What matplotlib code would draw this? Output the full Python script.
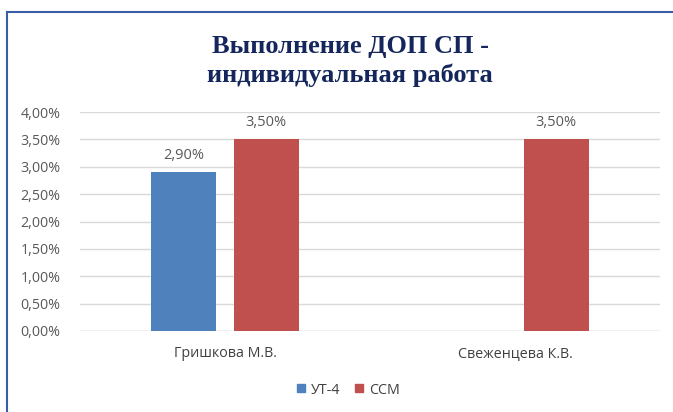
import numpy as np
import matplotlib.pyplot as plt
from matplotlib.lines import Line2D

categories = ["Гришкова М.В.", "Свеженцева К.В."]
ut4 = [2.90, np.nan]
ssm = [3.50, 3.50]
series_names = ["УТ-4", "ССМ"]
colors = ["#4F81BD", "#C0504D"]
yticks = [0, 0.5, 1.0, 1.5, 2.0, 2.5, 3.0, 3.5, 4.0]

plt.rcParams['font.family'] = ['Open Sans', 'DejaVu Sans']

fig = plt.figure(figsize=(6.73, 4.12), dpi=100)
ax = fig.add_axes([80 / 673, 1 - 331 / 412, 580 / 673, 219 / 412])

x = np.arange(len(categories))
w = 0.224
off = 0.142
b1 = ax.bar(x - off, ut4, w, color=colors[0], label=series_names[0], zorder=3)
b2 = ax.bar(x + off, ssm, w, color=colors[1], label=series_names[1], zorder=3)

def fmt(v):
    return f"{v:.2f}%".replace(".", ",")

for bars, vals in [(b1, ut4), (b2, ssm)]:
    for rect, v in zip(bars, vals):
        if np.isnan(v):
            continue
        ax.text(rect.get_x() + rect.get_width() / 2, v + 0.17, fmt(v),
                ha="center", va="bottom", fontsize=10.5, color="#595959")

ax.set_xlim(-0.5, 1.5)
ax.set_ylim(0, 4.0)
ax.set_yticks(yticks)
ax.set_yticklabels([fmt(t) for t in yticks], fontsize=10.3, color="#595959")
ax.set_xticks(x)
ax.set_xticklabels(categories, fontsize=10.3, color="#404040")
ax.tick_params(length=0, pad=14)
ax.tick_params(axis="x", pad=11)
ax.yaxis.grid(True, color="#D9D9D9", linewidth=1, zorder=0)
for s in ax.spines.values():
    s.set_visible(False)
ax.axhline(0, color="#D9D9D9", linewidth=1, zorder=2)

fig.text(350 / 673, 1 - 47 / 412, "Выполнение ДОП СП -", ha="center", va="center",
         fontsize=19, fontweight="bold", family="Liberation Serif", color="#14265C")
fig.text(350 / 673, 1 - 75 / 412, "индивидуальная работа", ha="center", va="center",
         fontsize=19, fontweight="bold", family="Liberation Serif", color="#14265C")

handles = [Line2D([], [], marker="s", linestyle="", color=c, markersize=6) for c in colors]
fig.legend(handles, series_names, loc="center", bbox_to_anchor=(348 / 673, 1 - 390 / 412),
           ncol=2, frameon=False, fontsize=10.3, handlelength=0.6, handletextpad=0.4,
           columnspacing=1.0, labelcolor="#404040")

# frame edges seen in the screenshot
fig.add_artist(Line2D([7 / 673, 7 / 673], [0, 1 - 12 / 412], transform=fig.transFigure,
                      color="#3A5DA8", linewidth=1.5))
fig.add_artist(Line2D([7 / 673, 1], [1 - 12 / 412, 1 - 12 / 412], transform=fig.transFigure,
                      color="#3A5DA8", linewidth=1.5))

fig.savefig("out.png", dpi=100)
